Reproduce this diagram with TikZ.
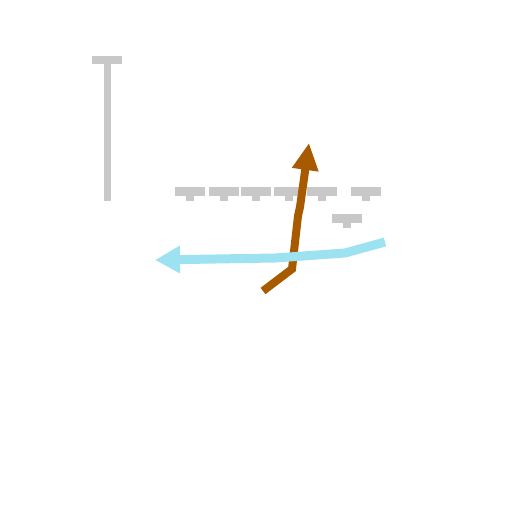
\documentclass[tikz,border=0pt]{standalone}
\usetikzlibrary{arrows.meta}
\definecolor{tgray}{HTML}{C8C8C8}
\definecolor{lblue}{HTML}{9CE2F0}
\definecolor{brn}{HTML}{A85A00}
\tikzset{
  tee/.style={fill=tgray},
  blueline/.style={draw=lblue,line width=9pt,-{Triangle[length=25pt,width=26pt]}},
  brownline/.style={draw=brn,line width=8pt,-{Triangle[length=27pt,width=25pt]}}
}
\newcommand{\smalltee}[2]{%
  \fill[tee] (#1-15,#2) rectangle (#1+15,#2+9);
  \fill[tee] (#1-4,#2+9) rectangle (#1+4,#2+14);}
\begin{document}
\begin{tikzpicture}[x=1pt,y=-1pt]
\useasboundingbox (0,0) rectangle (512,512);
% big T
\fill[tee] (92,56) rectangle (122,64);
\fill[tee] (103.5,64) rectangle (110.5,201);
% small tees
\smalltee{190}{187}
\smalltee{224}{187}
\smalltee{256}{187}
\smalltee{289}{187}
\smalltee{322}{187}
\smalltee{366}{187}
\smalltee{347}{214}
% brown
\coordinate (r0) at (263,291);
\coordinate (r1) at (292,269);
\coordinate (r2) at (298,216);
\coordinate (r3) at (300,207);
\coordinate (r4) at (309,143);
\draw[brownline] (r0) -- (r1) -- (r2) -- (r3) -- (r4);
% blue
\coordinate (b0) at (385,242);
\coordinate (b1) at (345,253);
\coordinate (b2) at (275,258);
\coordinate (b3) at (155,260);
\draw[blueline] (b0) -- (b1) -- (b2) -- (b3);
\end{tikzpicture}
\end{document}
